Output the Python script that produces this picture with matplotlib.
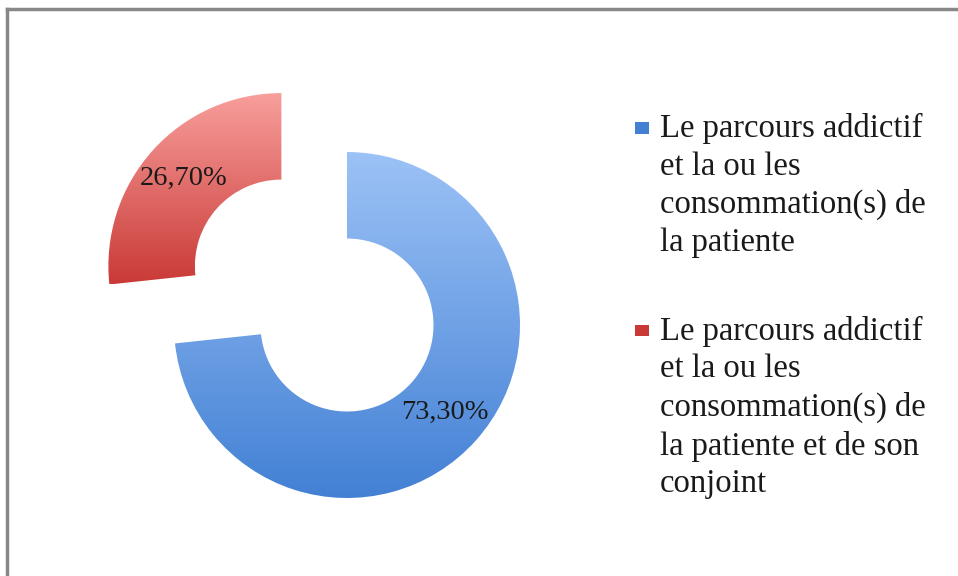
import numpy as np
import matplotlib
matplotlib.use("Agg")
import matplotlib.pyplot as plt
from matplotlib.colors import LinearSegmentedColormap
from matplotlib.patches import Rectangle

# data
labels = ["Le parcours addictif\net la ou les\nconsommation(s) de\nla patiente",
          "Le parcours addictif\net la ou les\nconsommation(s) de\nla patiente et de son\nconjoint"]
values = [73.3, 26.7]
explode = [0, 0.51]
# gradient colours (top, bottom) for each slice
grad_colors = [("#9cc2f6", "#4280d4"), ("#f89f9c", "#c93a37")]

plt.rcParams['font.family'] = ['Liberation Serif', 'DejaVu Serif']

fig = plt.figure(figsize=(9.58, 5.76), dpi=100)
ax = fig.add_axes([0, 0, 1, 1])

wedges, texts, autotexts = ax.pie(
    values, startangle=90, counterclock=False, explode=explode,
    wedgeprops=dict(width=0.5, edgecolor='none'),
    autopct=lambda p: "{:.2f}%".format(p).replace('.', ','),
    pctdistance=0.76, textprops=dict(fontsize=20.5, color='#1a1a1a'))

ax.set_xlim(-2.006, 3.532)
ax.set_ylim(-1.451, 1.879)
ax.set_aspect('auto')
ax.axis('off')

# vertical gradient fill clipped to each wedge
for w, (c_top, c_bot) in zip(wedges, grad_colors):
    w.set_facecolor('none')
    verts = w.get_path().vertices
    x0, x1 = verts[:, 0].min(), verts[:, 0].max()
    y0, y1 = verts[:, 1].min(), verts[:, 1].max()
    cmap = LinearSegmentedColormap.from_list('g', [c_bot, c_top])
    grad = np.linspace(0, 1, 256).reshape(-1, 1)
    im = ax.imshow(grad, extent=[x0, x1, y0, y1], origin='lower', cmap=cmap,
                   aspect='auto', zorder=1)
    im.set_clip_path(w)
for t in autotexts:
    t.set_zorder(3)

# legend drawn by hand
legend_y = [0.780, 0.428]
for lab, (c_top, c_bot), ly in zip(labels, grad_colors, legend_y):
    fig.patches.append(Rectangle((0.663, ly - 0.012), 0.014, 0.02, transform=fig.transFigure,
                                 facecolor=c_bot, edgecolor='none'))
    fig.text(0.689, ly + 0.024, lab, fontsize=23.5, va='top', ha='left',
             linespacing=1.31, color='#1a1a1a')

# frame border (top & left visible)
fig.add_artist(plt.Line2D([0.007, 1.0], [0.985, 0.985], transform=fig.transFigure,
                          color='#888888', lw=2.5))
fig.add_artist(plt.Line2D([0.007, 0.007], [0.0, 0.985], transform=fig.transFigure,
                          color='#888888', lw=2.5))

fig.savefig("out.png", dpi=100, facecolor='white')
